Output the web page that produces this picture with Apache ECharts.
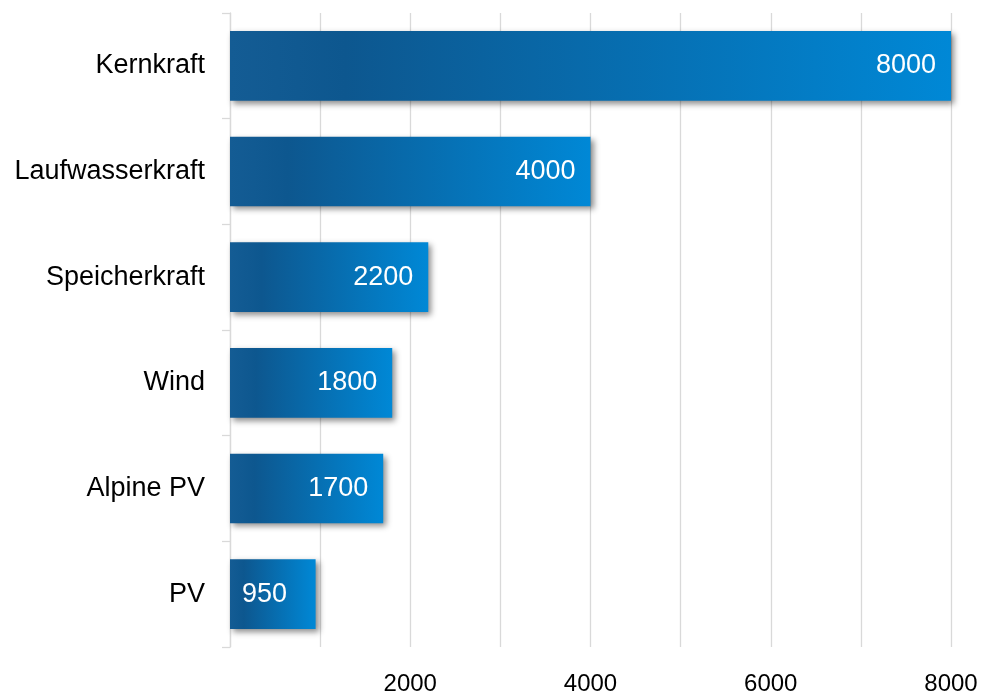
<!DOCTYPE html>
<html>
<head>
<meta charset="utf-8">
<script src="https://cdn.jsdelivr.net/npm/echarts@6/dist/echarts.min.js"></script>
<style>html,body{margin:0;padding:0;background:#fff}#c{width:982px;height:693px}</style>
</head>
<body>
<div id="c"></div>
<script>
const categories = ['Kernkraft', 'Laufwasserkraft', 'Speicherkraft', 'Wind', 'Alpine PV', 'PV'];
const values = [8000, 4000, 2200, 1800, 1700, 950];
const tickLabels = [2000, 4000, 6000, 8000];

const chart = echarts.init(document.getElementById('c'));
const font = '"Liberation Sans", Arial, sans-serif';
chart.setOption({
  animation: false,
  grid: { left: 230, right: 31, top: 13, bottom: 46, containLabel: false, outerBoundsMode: 'none' },
  xAxis: {
    type: 'value', min: 0, max: 8000, interval: 1000,
    axisLine: { show: false }, axisTick: { show: false },
    splitLine: { lineStyle: { color: '#d9d9d9', width: 1.3 } },
    axisLabel: {
      margin: 25, color: '#000', fontSize: 24, fontFamily: font,
      formatter: v => tickLabels.indexOf(v) >= 0 ? String(v) : ''
    }
  },
  yAxis: {
    type: 'category', data: categories, inverse: true,
    axisLine: { show: true, lineStyle: { color: '#d9d9d9', width: 1.3 } },
    axisTick: { show: true, length: 8, lineStyle: { color: '#d9d9d9', width: 1.3 } },
    axisLabel: { margin: 25, color: '#000', fontSize: 27, fontFamily: font }
  },
  series: [{
    type: 'bar',
    data: values.map(v => v < 1000 ? { value: v, label: { position: 'insideLeft', distance: 12 } } : v),
    barWidth: '66%',
    itemStyle: {
      color: new echarts.graphic.LinearGradient(0, 0, 1, 0, [
        { offset: 0, color: '#145c94' },
        { offset: 0.16, color: '#0d578f' },
        { offset: 1, color: '#0088d6' }
      ]),
      shadowColor: 'rgba(0,0,0,0.45)', shadowBlur: 6, shadowOffsetX: 3, shadowOffsetY: 3
    },
    label: {
      show: true, position: 'insideRight', distance: 15, color: '#fff',
      fontSize: 27, fontFamily: font
    }
  }]
});
</script>
</body>
</html>
